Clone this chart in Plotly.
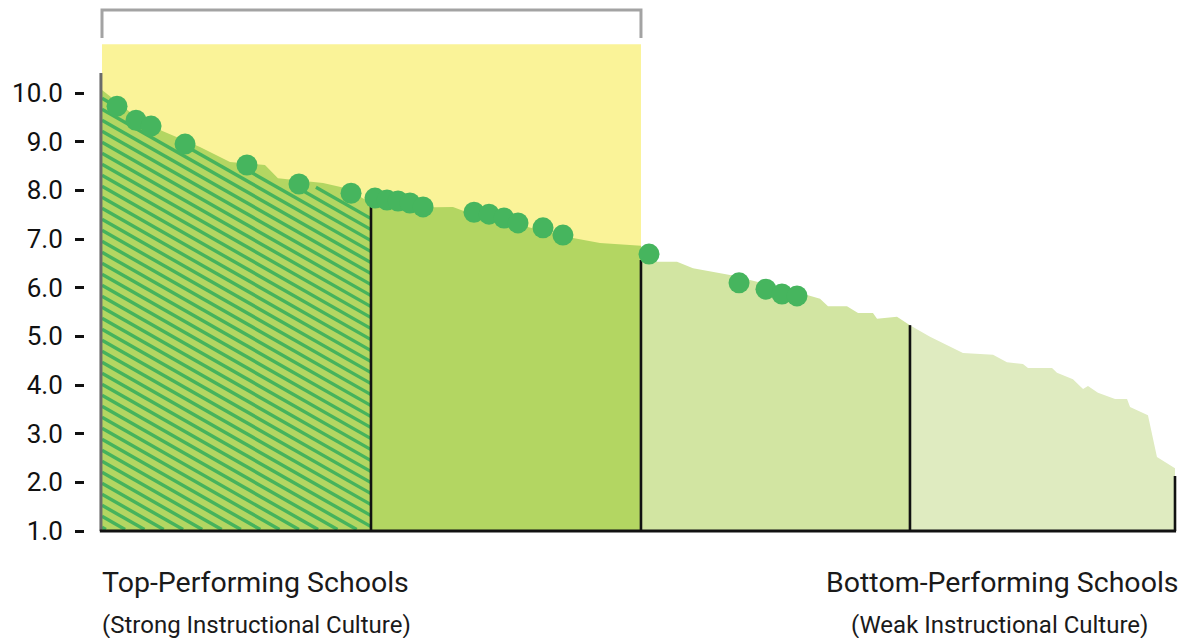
import numpy as np
import plotly.graph_objects as go

# ---------------- data ----------------
# outline of the distribution, per quartile (x = percentile of schools, y = score)
q1_x = [0, 2.61, 5.41, 9.13, 11.93, 15.19, 16.40, 20.60, 22.65, 25.07]
q1_y = [10.06, 9.61, 9.24, 8.89, 8.58, 8.52, 8.25, 8.15, 8.05, 7.74]
q2_x = [25.07, 27.77, 32.71, 34.02, 43.90, 46.41, 50.23]
q2_y = [7.74, 7.64, 7.66, 7.55, 7.02, 6.92, 6.86]
q3_x = [50.23, 53.59, 55.08, 58.53, 64.12, 66.92, 67.66, 69.43, 70.46, 71.85, 72.23, 74.09, 75.30]
q3_y = [6.53, 6.53, 6.40, 6.26, 5.95, 5.77, 5.62, 5.62, 5.48, 5.48, 5.36, 5.40, 5.23]
q4_x = [75.30, 77.17, 80.24, 83.04, 84.34, 85.83, 86.30, 88.54, 89.00, 90.49, 91.43, 91.89,
        92.82, 94.41, 95.53, 95.81, 97.48, 98.32, 100]
q4_y = [5.23, 4.99, 4.66, 4.62, 4.47, 4.43, 4.35, 4.35, 4.25, 4.12, 3.92, 3.98,
        3.84, 3.71, 3.71, 3.55, 3.38, 2.52, 2.29]

divider_x = [25.07, 50.23, 75.30, 100]
divider_top = [7.70, 6.57, 5.23, 2.13]

dot_x = [1.40, 3.17, 4.57, 7.74, 13.51, 18.36, 23.21, 25.44, 26.56, 27.59, 28.70, 29.92,
         34.67, 36.07, 37.46, 38.77, 41.10, 42.96, 50.98, 59.37, 61.88, 63.37, 64.77]
dot_y = [9.73, 9.44, 9.32, 8.95, 8.52, 8.13, 7.94, 7.84, 7.80, 7.78, 7.74, 7.66,
         7.55, 7.51, 7.43, 7.33, 7.23, 7.08, 6.69, 6.10, 5.97, 5.87, 5.83]

tick_vals = [1, 2, 3, 4, 5, 6, 7, 8, 9, 10]
tick_text = ["1.0", "2.0", "3.0", "4.0", "5.0", "6.0", "7.0", "8.0", "9.0", "10.0"]

highlight_x = [0, 50.23]
highlight_top = 11.0
axis_top = 10.41

label_top_left = "Top-Performing Schools"
label_sub_left = "(Strong Instructional Culture)"
label_top_right = "Bottom-Performing Schools"
label_sub_right = "(Weak Instructional Culture)"

# ---------------- layout geometry ----------------
W, H = 1188, 638
X0_PX, X1_PX = 102, 1175          # x = 0 .. 100
Y1_PX, Y10_PX = 531, 93           # y = 1 .. 10
px_x = (X1_PX - X0_PX) / 100.0
px_y = (Y1_PX - Y10_PX) / 9.0
x_range = [-X0_PX / px_x, 100 + (W - X1_PX) / px_x]
y_range = [1 - (H - Y1_PX) / px_y, 1 + Y1_PX / px_y]

C_Q1 = "#b3d662"
C_Q2 = "#b3d662"
C_Q3 = "#d2e5a2"
C_Q4 = "#dfebc0"
C_HATCH = "#46b35c"
C_DOT = "#46b55e"
C_YELLOW = "#faf398"

fig = go.Figure()


def area(xs, ys, color):
    fx = list(xs) + [xs[-1], xs[0]]
    fy = list(ys) + [1, 1]
    fig.add_trace(go.Scatter(x=fx, y=fy, fill="toself", fillcolor=color, mode="none",
                             hoverinfo="skip", showlegend=False))


area(q1_x, q1_y, C_Q1)

# hatch lines clipped to the first quartile
slope_px = 0.57
m = -slope_px * px_x / px_y
step = 11.0 / px_y
xs = np.linspace(q1_x[0], q1_x[-1], 900)
top = np.interp(xs, q1_x, q1_y) - 0.10
hx, hy = [], []
for c in np.arange(0.85, 15, step):
    ys = c + m * xs
    mask = (ys <= top) & (ys >= 1.03)
    if not mask.any():
        continue
    for xv, yv, ok in zip(xs, ys, mask):
        if ok:
            hx.append(float(xv)); hy.append(float(yv))
        else:
            if hx and hx[-1] is not None:
                hx.append(None); hy.append(None)
    hx.append(None); hy.append(None)
fig.add_trace(go.Scatter(x=hx, y=hy, mode="lines", line=dict(color=C_HATCH, width=3.4),
                         connectgaps=False, hoverinfo="skip", showlegend=False))

area(q2_x, q2_y, C_Q2)
area(q3_x, q3_y, C_Q3)
area(q4_x, q4_y, C_Q4)

# divider lines
vx, vy = [], []
for xv, tv in zip(divider_x, divider_top):
    vx += [xv, xv, None]
    vy += [1, tv, None]
fig.add_trace(go.Scatter(x=vx, y=vy, mode="lines", line=dict(color="#111111", width=2.6),
                         hoverinfo="skip", showlegend=False))

# left axis line (grey) and bottom baseline (black)
fig.add_trace(go.Scatter(x=[-0.1, -0.1], y=[1, axis_top], mode="lines",
                         line=dict(color="#6b6b6b", width=3), hoverinfo="skip", showlegend=False))
fig.add_trace(go.Scatter(x=[-0.2, 100.1], y=[1, 1], mode="lines",
                         line=dict(color="#111111", width=3), hoverinfo="skip", showlegend=False))

# dots
fig.add_trace(go.Scatter(x=dot_x, y=dot_y, mode="markers",
                         marker=dict(size=21, color=C_DOT, line=dict(width=0)),
                         hoverinfo="skip", showlegend=False))

shapes = [
    dict(type="rect", xref="x", yref="y", x0=highlight_x[0], x1=highlight_x[1], y0=1,
         y1=highlight_top, fillcolor=C_YELLOW, line=dict(width=0), layer="below"),
    dict(type="path", xref="x", yref="y",
         path=f"M {highlight_x[0]},{highlight_top + 0.13} L {highlight_x[0]},{highlight_top + 0.705} "
              f"L {highlight_x[1]},{highlight_top + 0.705} L {highlight_x[1]},{highlight_top + 0.13}",
         line=dict(color="#a3a3a3", width=3), layer="above"),
]

font_family = "Roboto, 'DejaVu Sans', sans-serif"
annotations = [
    dict(text=label_top_left, xref="paper", yref="paper", x=100 / W, y=1 - 582 / H,
         xanchor="left", yanchor="middle", showarrow=False,
         font=dict(family=font_family, size=28.5, color="#1a1a1a")),
    dict(text=label_sub_left, xref="paper", yref="paper", x=100 / W, y=1 - 625 / H,
         xanchor="left", yanchor="middle", showarrow=False,
         font=dict(family=font_family, size=24, color="#1a1a1a")),
    dict(text=label_top_right, xref="paper", yref="paper", x=1181 / W, y=1 - 582 / H,
         xanchor="right", yanchor="middle", showarrow=False,
         font=dict(family=font_family, size=28.5, color="#1a1a1a")),
    dict(text=label_sub_right, xref="paper", yref="paper", x=999 / W, y=1 - 625 / H,
         xanchor="center", yanchor="middle", showarrow=False,
         font=dict(family=font_family, size=24, color="#1a1a1a")),
]

fig.update_layout(
    width=W, height=H,
    margin=dict(l=0, r=0, t=0, b=0),
    paper_bgcolor="white", plot_bgcolor="white",
    showlegend=False,
    shapes=shapes,
    annotations=annotations,
    xaxis=dict(range=x_range, domain=[0, 1], visible=False, fixedrange=True),
    yaxis=dict(range=y_range, domain=[0, 1], anchor="free", position=84 / W, side="left",
               tickmode="array", tickvals=tick_vals, ticktext=tick_text,
               ticks="outside", ticklen=9, tickwidth=3, tickcolor="#111111",
               ticklabelstandoff=7,
               showgrid=False, zeroline=False, showline=False, fixedrange=True,
               tickfont=dict(family=font_family, size=26, color="#111111")),
)

fig.write_html("out.html")
